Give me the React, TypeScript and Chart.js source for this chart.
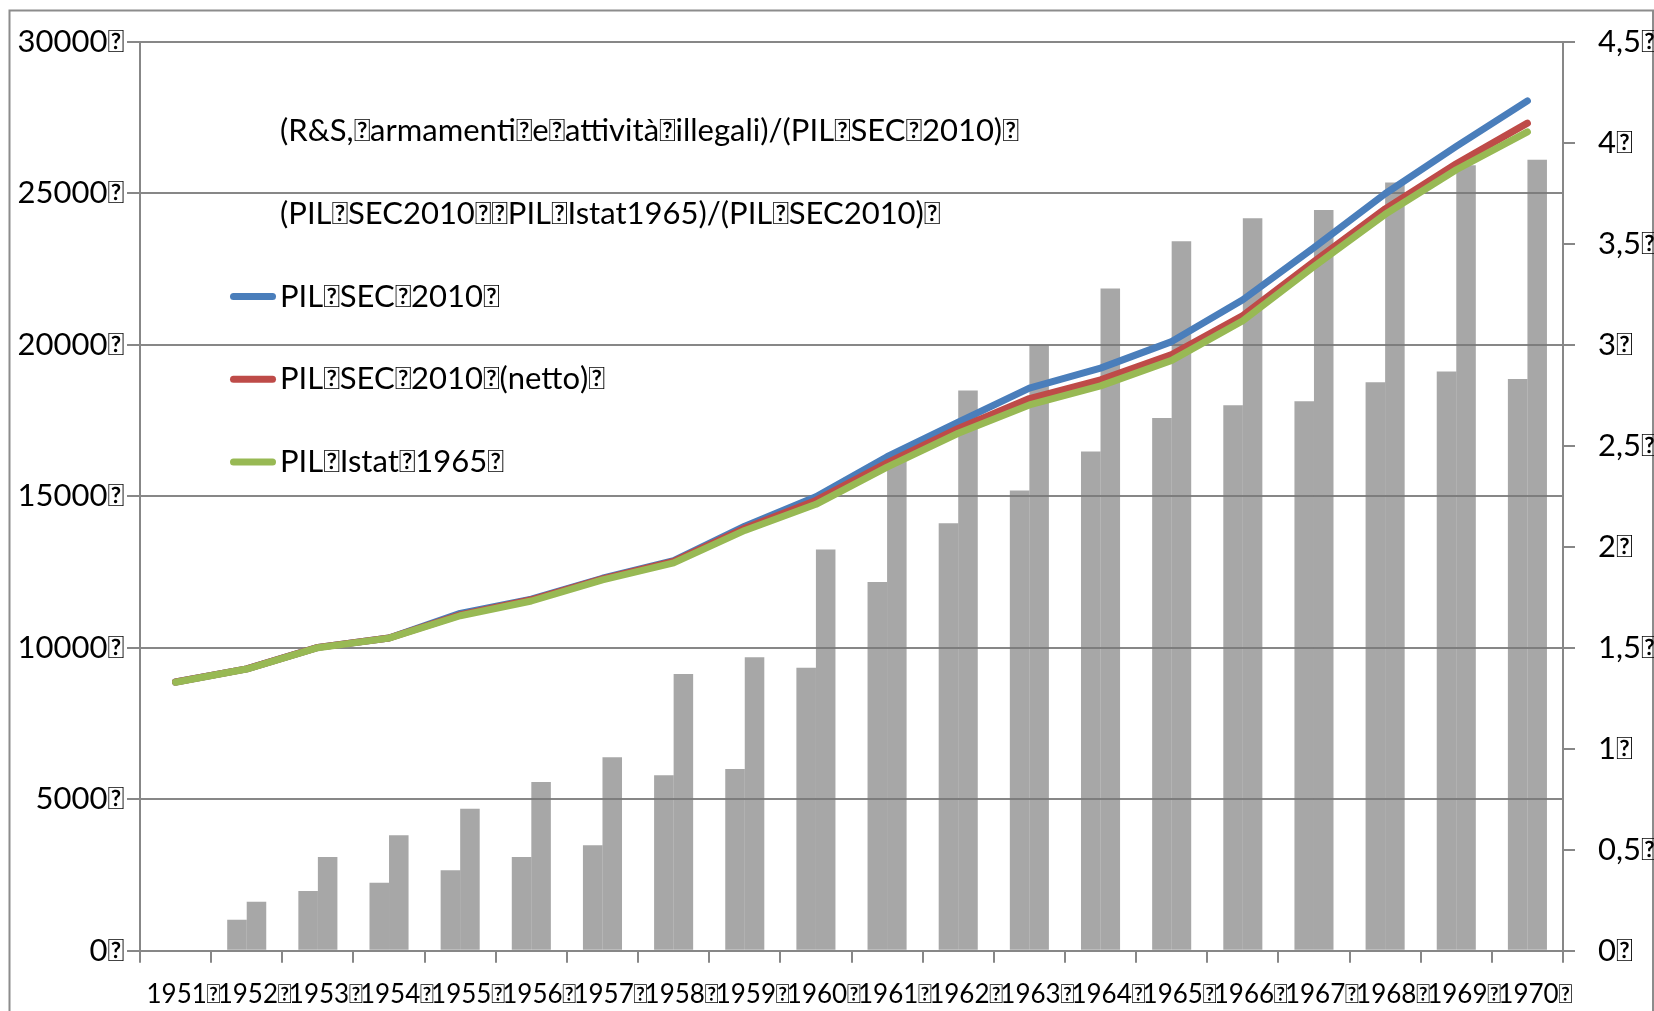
import React, { useEffect, useRef } from 'react';
import { Chart, registerables } from 'chart.js';

Chart.register(...registerables);

// missing-glyph character that appears after every label in the reference
const BOX = '\uF020';

const YEARS = ['1951', '1952', '1953', '1954', '1955', '1956', '1957', '1958', '1959', '1960',
  '1961', '1962', '1963', '1964', '1965', '1966', '1967', '1968', '1969', '1970'];

// right axis (bars)
const RS_RATIO = [0, 0.153, 0.296, 0.336, 0.398, 0.464, 0.522, 0.868, 0.9, 1.4,
  1.825, 2.116, 2.278, 2.471, 2.637, 2.7, 2.72, 2.814, 2.867, 2.83];
const DIFF_RATIO = [0, 0.242, 0.464, 0.571, 0.703, 0.835, 0.958, 1.37, 1.452, 1.986,
  2.444, 2.773, 2.997, 3.278, 3.512, 3.625, 3.667, 3.803, 3.888, 3.915];

// left axis (lines)
const PIL_SEC_2010 = [8867, 9300, 10010, 10320, 11130, 11600, 12290, 12870, 14010, 14980,
  16300, 17440, 18565, 19225, 20100, 21480, 23200, 24980, 26540, 28044];
const PIL_SEC_2010_NETTO = [8867, 9300, 10010, 10320, 11080, 11580, 12270, 12850, 13940, 14860,
  16100, 17235, 18220, 18840, 19670, 20960, 22740, 24480, 25970, 27310];
const PIL_ISTAT_1965 = [8860, 9295, 10000, 10315, 11054, 11540, 12240, 12800, 13869, 14730,
  15960, 17075, 18010, 18640, 19480, 20790, 22580, 24300, 25770, 27023];

const LABELS = [
  `(R&S,${BOX}armamenti${BOX}e${BOX}attività${BOX}illegali)/(PIL${BOX}SEC${BOX}2010)${BOX}`,
  `(PIL${BOX}SEC2010${BOX}${BOX}PIL${BOX}Istat1965)/(PIL${BOX}SEC2010)${BOX}`,
  `PIL${BOX}SEC${BOX}2010${BOX}`,
  `PIL${BOX}SEC${BOX}2010${BOX}(netto)${BOX}`,
  `PIL${BOX}Istat${BOX}1965${BOX}`,
];

const LEFT_MIN = 0, LEFT_MAX = 30000, LEFT_STEP = 5000;
const RIGHT_MIN = 0, RIGHT_MAX = 4.5, RIGHT_STEP = 0.5;

const AXIS_COLOR = '#878787';
const FONT = 'Lato';

const frame = {
  id: 'frame',
  beforeDraw(chart: any) {
    const { ctx, width, height } = chart;
    ctx.save();
    ctx.fillStyle = '#ffffff';
    ctx.fillRect(0, 0, width, height);
    ctx.strokeStyle = '#8c8c8c';
    ctx.lineWidth = 2;
    ctx.strokeRect(9.5, 10.5, 1643.5, height + 10);
    ctx.restore();
  },
};

const legend = {
  id: 'insideLegend',
  afterDraw(chart: any) {
    const { ctx, chartArea } = chart;
    ctx.save();
    ctx.font = `31px ${FONT}`;
    ctx.textBaseline = 'middle';
    ctx.textAlign = 'left';
    chart.data.datasets.forEach((ds: any, i: number) => {
      const y = chartArea.top + 89.5 + i * 82.75;
      const x = chartArea.left + 140;
      if (ds.type === 'line') {
        ctx.strokeStyle = ds.borderColor;
        ctx.lineWidth = 7;
        ctx.lineCap = 'round';
        ctx.beginPath();
        ctx.moveTo(x - 46.5, y);
        ctx.lineTo(x - 7.5, y);
        ctx.stroke();
      }
      ctx.fillStyle = '#000';
      ctx.fillText(ds.label, x, y);
    });
    ctx.restore();
  },
};

export default function App() {
  const ref = useRef<HTMLCanvasElement>(null);
  useEffect(() => {
    const barColor = 'rgba(120,120,120,0.65)';
    const lineBase = {
      type: 'line' as const,
      yAxisID: 'y',
      borderWidth: 7,
      pointRadius: 0,
      pointHoverRadius: 0,
      borderCapStyle: 'round' as const,
      borderJoinStyle: 'round' as const,
      tension: 0,
      fill: false,
    };
    const chart = new Chart(ref.current!, {
      type: 'bar',
      data: {
        labels: YEARS,
        datasets: [
          { type: 'bar', label: LABELS[0], data: RS_RATIO, yAxisID: 'y1', backgroundColor: barColor,
            borderWidth: 0, categoryPercentage: 0.549, barPercentage: 1.0, order: 3 },
          { type: 'bar', label: LABELS[1], data: DIFF_RATIO, yAxisID: 'y1', backgroundColor: barColor,
            borderWidth: 0, categoryPercentage: 0.549, barPercentage: 1.0, order: 4 },
          { ...lineBase, label: LABELS[2], data: PIL_SEC_2010, borderColor: '#4a7ebb', order: 2 },
          { ...lineBase, label: LABELS[3], data: PIL_SEC_2010_NETTO, borderColor: '#be4b48', order: 1 },
          { ...lineBase, label: LABELS[4], data: PIL_ISTAT_1965, borderColor: '#98b954', order: 0 },
        ] as any,
      },
      options: {
        animation: false,
        responsive: false,
        devicePixelRatio: 1,
        layout: { padding: { left: 0, right: 0, top: 39.5, bottom: 0 } },
        plugins: { legend: { display: false }, tooltip: { enabled: false } },
        scales: {
          x: {
            type: 'category',
            offset: true,
            grid: { offset: true, drawOnChartArea: false, drawTicks: true, tickLength: 12, color: AXIS_COLOR, lineWidth: 2 },
            border: { display: true, color: AXIS_COLOR, width: 2 },
            ticks: {
              autoSkip: false, maxRotation: 0, minRotation: 0, padding: 16, labelOffset: 8, color: '#000',
              font: { family: FONT, size: 26 },
              callback: (_v: any, i: number) => `${YEARS[i]}${BOX}`,
            },
            afterFit: (s: any) => { s.height = 60.3; },
          },
          y: {
            position: 'left',
            min: LEFT_MIN, max: LEFT_MAX,
            grid: { color: AXIS_COLOR, lineWidth: 2, drawTicks: true, tickLength: 13 },
            border: { display: true, color: AXIS_COLOR, width: 2 },
            ticks: {
              stepSize: LEFT_STEP, padding: 3, color: '#000',
              font: { family: FONT, size: 31 },
              callback: (v: any) => `${v}${BOX}`,
            },
            afterFit: (s: any) => { s.width = 140; },
          },
          y1: {
            position: 'right',
            min: RIGHT_MIN, max: RIGHT_MAX,
            grid: { drawOnChartArea: false, color: AXIS_COLOR, lineWidth: 2, drawTicks: true, tickLength: 12 },
            border: { display: true, color: AXIS_COLOR, width: 2 },
            ticks: {
              stepSize: RIGHT_STEP, padding: 23, color: '#000',
              font: { family: FONT, size: 31 },
              callback: (v: any) => `${String(v).replace('.', ',')}${BOX}`,
            },
            afterFit: (s: any) => { s.width = 91; },
          },
        },
      },
      plugins: [frame, legend],
    });
    return () => chart.destroy();
  }, []);
  return (
    <div style={{ position: 'fixed', left: 0, top: 0, width: 1654, height: 1011, background: '#fff' }}>
      <canvas ref={ref} width={1654} height={1011} style={{ width: 1654, height: 1011, display: 'block' }} />
    </div>
  );
}
